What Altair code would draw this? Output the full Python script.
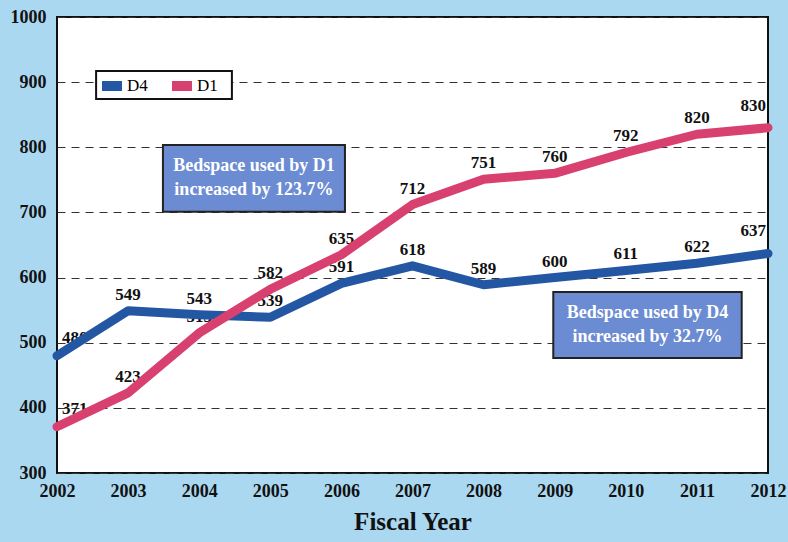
import altair as alt
import pandas as pd

years = list(range(2002, 2013))
d4 = [480, 549, 543, 539, 591, 618, 589, 600, 611, 622, 637]
d1 = [371, 423, 515, 582, 635, 712, 751, 760, 792, 820, 830]
series_names = ["D4", "D1"]
series_colors = ["#2356a3", "#d8416f"]

box_x1 = [2003.49, 2008.98]
box_x2 = [2006.05, 2011.63]
box_y1 = [803.5, 578.0]
box_y2 = [701.0, 476.5]
box_line1 = ["Bedspace used by D1", "Bedspace used by D4"]
box_line2 = ["increased by 123.7%", "increased by 32.7%"]

FONT = "Liberation Serif"

rows = []
for y, a, b in zip(years, d4, d1):
    rows.append({"year": y, "series": "D4", "value": a})
    rows.append({"year": y, "series": "D1", "value": b})
df = pd.DataFrame(rows)

boxes = pd.DataFrame({
    "x1": box_x1, "x2": box_x2, "y1": box_y1, "y2": box_y2,
    "l1": box_line1, "l2": box_line2,
})
boxes["xm"] = (boxes["x1"] + boxes["x2"]) / 2
boxes["ym"] = (boxes["y1"] + boxes["y2"]) / 2

xscale = alt.Scale(domain=[2002, 2012], nice=False, zero=False)
yscale = alt.Scale(domain=[300, 1000], nice=False, zero=False)

xenc = alt.X("year:Q", scale=xscale,
             axis=alt.Axis(values=years, format="d", title="Fiscal Year",
                           grid=False, ticks=False, domain=False,
                           labelPadding=9, labelFont=FONT, labelFontSize=18,
                           labelFontWeight="bold", labelColor="#111",
                           labelFlush=False,
                           titleFont=FONT, titleFontSize=25, titleFontWeight="bold",
                           titleColor="#111", titlePadding=9))
yenc = alt.Y("value:Q", scale=yscale,
             axis=alt.Axis(values=list(range(300, 1001, 100)), format="d", title=None,
                           grid=True, gridDash=[8, 6], gridColor="#333",
                           gridWidth=1, ticks=False, domain=False,
                           labelPadding=11, labelFont=FONT, labelFontSize=18,
                           labelFontWeight="bold", labelColor="#111"))

color = alt.Color("series:N",
                  scale=alt.Scale(domain=series_names, range=series_colors),
                  legend=alt.Legend(orient="none", legendX=40, legendY=54,
                                    direction="horizontal", title=None,
                                    symbolType="stroke", symbolStrokeWidth=10,
                                    symbolSize=400, labelFont=FONT,
                                    labelFontSize=17, labelColor="#000",
                                    columnPadding=4, labelOffset=0))

base = alt.Chart(df)

TXT = dict(font=FONT, fontSize=17, fontWeight="bold", color="#111")
mid = base.transform_filter((alt.datum.year > 2002) & (alt.datum.year < 2012)).mark_text(
    dy=-16, **TXT
).encode(x="year:Q", y="value:Q", text="value:Q")
first = base.transform_filter(alt.datum.year == 2002).mark_text(
    dy=-18, align="left", dx=5, **TXT
).encode(x="year:Q", y="value:Q", text="value:Q")
last = base.transform_filter(alt.datum.year == 2012).mark_text(
    dy=-22, align="right", dx=-2, **TXT
).encode(x="year:Q", y="value:Q", text="value:Q")

lines = base.mark_line(strokeWidth=9, strokeCap="round", strokeJoin="round").encode(
    x=xenc, y=yenc, color=color, detail="series:N",
    order=alt.Order("year:Q")
)

legend_box = alt.Chart(pd.DataFrame({"x1": [2002.55], "x2": [2004.46],
                                     "y1": [917.0], "y2": [874.0]})).mark_rect(
    fill="white", stroke="#111", strokeWidth=2
).encode(x="x1:Q", x2="x2:Q", y="y1:Q", y2="y2:Q")

bx = alt.Chart(boxes)
rects = bx.mark_rect(fill="#6b8bd2", stroke="#222", strokeWidth=2).encode(
    x="x1:Q", x2="x2:Q", y="y1:Q", y2="y2:Q")
BT = dict(font=FONT, fontSize=18, fontWeight="bold", color="white")
t1 = bx.mark_text(dy=-12, **BT).encode(x="xm:Q", y="ym:Q", text="l1:N")
t2 = bx.mark_text(dy=12, **BT).encode(x="xm:Q", y="ym:Q", text="l2:N")

chart = alt.layer(mid, first, last, lines, legend_box, rects, t1, t2).properties(
    width=711, height=456,
    background="#aad8f1",
    padding={"left": 57, "top": 17, "right": 20, "bottom": 69},
    autosize=alt.AutoSizeParams(type="none"),
).configure_view(fill="white", stroke="#111", strokeWidth=2)

chart.save("out.html", embed_options={"renderer": "svg", "actions": False})
